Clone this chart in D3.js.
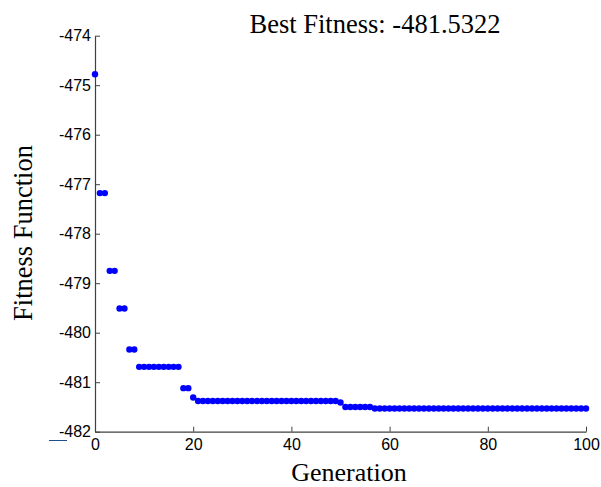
<!DOCTYPE html>
<html>
<head>
<meta charset="utf-8">
<script src="https://cdn.jsdelivr.net/npm/d3@7/dist/d3.min.js"></script>
<style>
  html, body { margin: 0; padding: 0; background: #fff; }
  svg { display: block; }
</style>
</head>
<body>
<svg id="chart" width="601" height="487"></svg>
<script>
// ---- data ----
const generations = d3.range(0, 101);
const fitness = [
  -474.78,
  -477.18, -477.18,
  -478.75, -478.75,
  -479.51, -479.51,
  -480.34, -480.34,
  -480.69, -480.69, -480.69, -480.69, -480.69, -480.69, -480.69, -480.69, -480.69,
  -481.12, -481.12,
  -481.31,
  -481.38, -481.38, -481.38, -481.38, -481.38, -481.38, -481.38, -481.38, -481.38, -481.38,
  -481.38, -481.38, -481.38, -481.38, -481.38, -481.38, -481.38, -481.38, -481.38, -481.38,
  -481.38, -481.38, -481.38, -481.38, -481.38, -481.38, -481.38, -481.38, -481.38,
  -481.41,
  -481.50, -481.50, -481.50, -481.50, -481.50, -481.50,
  -481.53, -481.53, -481.53, -481.53, -481.53, -481.53, -481.53, -481.53, -481.53, -481.53,
  -481.53, -481.53, -481.53, -481.53, -481.53, -481.53, -481.53, -481.53, -481.53, -481.53,
  -481.53, -481.53, -481.53, -481.53, -481.53, -481.53, -481.53, -481.53, -481.53, -481.53,
  -481.53, -481.53, -481.53, -481.53, -481.53, -481.53, -481.53, -481.53, -481.53, -481.53,
  -481.53, -481.53, -481.53, -481.53
];
const xTicks = [0, 20, 40, 60, 80, 100];
const yTicks = [-482, -481, -480, -479, -478, -477, -476, -475, -474];
const titleText = "Best Fitness: -481.5322";
const xLabel = "Generation";
const yLabel = "Fitness Function";

// ---- layout ----
const svg = d3.select("#chart");
const x = d3.scaleLinear().domain([0, 100]).range([95, 586]);
const y = d3.scaleLinear().domain([-482, -474]).range([431.7, 35.7]);
const axisColor = "#404040";

// axes
const gx = svg.append("g")
  .attr("transform", `translate(0,${y(-482)})`)
  .call(d3.axisBottom(x).tickValues(xTicks).tickFormat(d => String(d))
    .tickSizeInner(-5).tickSizeOuter(0).tickPadding(4));
const gy = svg.append("g")
  .attr("transform", `translate(${x(0)},0)`)
  .call(d3.axisLeft(y).tickValues(yTicks).tickFormat(d => String(d))
    .tickSizeInner(-5).tickSizeOuter(0).tickPadding(4));

[gx, gy].forEach(g => {
  g.select(".domain").attr("stroke", axisColor).attr("stroke-width", 1.2);
  g.selectAll(".tick line").attr("stroke", axisColor);
  g.selectAll(".tick text")
    .attr("fill", "#000")
    .style("font-family", "'Liberation Sans', Arial, sans-serif")
    .style("font-size", "16px");
});
gx.selectAll(".tick text").attr("dy", "0.9em");

// points
svg.append("g")
  .selectAll("circle")
  .data(generations)
  .join("circle")
  .attr("cx", d => x(d))
  .attr("cy", (d, i) => y(fitness[i]))
  .attr("r", 3.2)
  .attr("fill", "#0000ff");

// small stray legend line at bottom-left
svg.append("line")
  .attr("x1", 49).attr("x2", 67)
  .attr("y1", 440.5).attr("y2", 440.5)
  .attr("stroke", "#1f4e8c").attr("stroke-width", 1);

// texts
const serif = "'Liberation Serif', 'Times New Roman', serif";
svg.append("text")
  .attr("x", 375).attr("y", 33)
  .attr("text-anchor", "middle")
  .style("font-family", serif).style("font-size", "26.5px")
  .text(titleText);

svg.append("text")
  .attr("x", 349).attr("y", 481)
  .attr("text-anchor", "middle")
  .style("font-family", serif).style("font-size", "26px")
  .text(xLabel);

svg.append("text")
  .attr("transform", "translate(32,233) rotate(-90)")
  .attr("text-anchor", "middle")
  .style("font-family", serif).style("font-size", "26.5px")
  .text(yLabel);
</script>
</body>
</html>
